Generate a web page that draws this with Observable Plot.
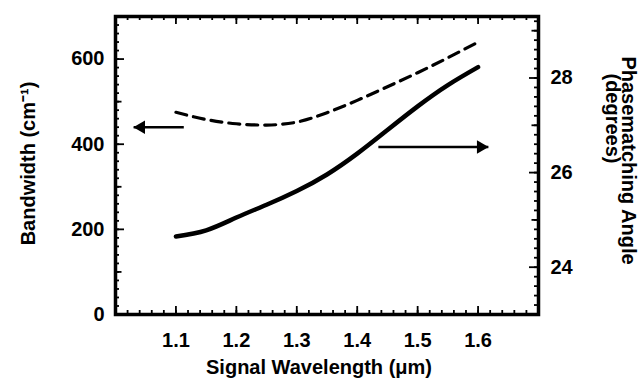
<!DOCTYPE html>
<html><head><meta charset="utf-8">
<script src="https://cdn.jsdelivr.net/npm/d3@7"></script>
<script src="https://cdn.jsdelivr.net/npm/@observablehq/plot@0.6"></script>
<style>
body{margin:0;background:#fff;}
#chart svg{display:block;font-family:"Liberation Sans",Arial,Helvetica,sans-serif;}
</style>
</head><body><div id="chart"></div>
<script>
// Data
const wavelength = [1.10, 1.15, 1.20, 1.25, 1.30, 1.35, 1.40, 1.45, 1.50, 1.55, 1.60];
const bandwidth  = [475, 458, 448, 445, 452, 474, 503, 535, 568, 603, 640];   // cm^-1 (dashed, left axis)
const angle      = [24.65, 24.78, 25.05, 25.32, 25.61, 25.96, 26.40, 26.90, 27.40, 27.85, 28.23]; // degrees (solid, right axis)

// Tick labels
const xTickLabels = [1.1, 1.2, 1.3, 1.4, 1.5, 1.6];
const bwTickLabels = [0, 200, 400, 600];
const angleTickLabels = [24, 26, 28];
const bwMidTicks = [100, 300, 500, 700];
const angleMidTicks = [23, 25, 27, 29];

// Annotation arrows: [bandwidth arrow -> left, angle arrow -> right]
const arrowFromX = [1.113, 1.435];
const arrowToX = [1.03, 1.617];
const arrowBandwidth = [440];
const arrowAngle = [26.54];

const xDomain = [1.0, 1.7];
const bwDomain = [0, 700];
const angleDomain = [23, 29.3];
const angleToBw = d3.scaleLinear(angleDomain, bwDomain);

const bwRows = wavelength.map((w, i) => ({w, v: bandwidth[i]}));
const angleRows = wavelength.map((w, i) => ({w, v: angleToBw(angle[i])}));
const arrows = [
  {x1: arrowFromX[0], x2: arrowToX[0], y: arrowBandwidth[0], dir: -1},
  {x1: arrowFromX[1], x2: arrowToX[1], y: angleToBw(arrowAngle[0]), dir: 1}
];

const W = 641, H = 379, mL = 115, mR = 103, mT = 16, mB = 65;
const FW = W - mL - mR, FH = H - mT - mB;

const font = {fontSize: 20, fontWeight: "bold", fill: "black"};
const tk = {stroke: "black", strokeWidth: 1.8};

const steps = (a, b, s) => d3.range(Math.round(a / s), Math.round(b / s) + 1).map(k => +(k * s).toFixed(6));

// inward ticks drawn from each frame edge into the plot
const leftTicks = (vals, L) => Plot.tickY(vals, {y: d => d, insetRight: FW - L, ...tk});
const rightTicks = (vals, L) => Plot.tickY(vals, {y: d => d, insetLeft: FW - L, ...tk});
const bottomTicks = (vals, L) => Plot.tickX(vals, {x: d => d, insetTop: FH - L, ...tk});
const topTicks = (vals, L) => Plot.tickX(vals, {x: d => d, insetBottom: FH - L, ...tk});

const chart = Plot.plot({
  width: W,
  height: H,
  marginLeft: mL,
  marginRight: mR,
  marginTop: mT,
  marginBottom: mB,
  style: {background: "#fff"},
  x: {domain: xDomain},
  y: {domain: bwDomain},
  marks: [
    // inward ticks
    leftTicks(steps(0, 700, 20), 4),
    leftTicks(bwMidTicks, 6.5),
    leftTicks(bwTickLabels, 9),
    rightTicks(steps(23, 29.2, 0.2).map(angleToBw), 4),
    rightTicks(angleMidTicks.map(angleToBw), 6.5),
    rightTicks(angleTickLabels.map(angleToBw), 9),
    bottomTicks(steps(1.0, 1.7, 0.02), 4),
    bottomTicks(xTickLabels, 8),
    topTicks(steps(1.0, 1.7, 0.02), 4),
    topTicks(xTickLabels, 8),
    // tick labels
    Plot.axisY(bwTickLabels, {anchor: "left", tickSize: 0, tickPadding: 11, label: null, ...font}),
    Plot.axisY(angleTickLabels.map(angleToBw), {anchor: "right", tickSize: 0, tickPadding: 12, tickFormat: d => d3.format("d")(angleToBw.invert(d)), label: null, ...font}),
    Plot.axisX(xTickLabels, {anchor: "bottom", tickSize: 0, tickPadding: 18, tickFormat: d3.format(".1f"), label: null, ...font}),
    // axis titles
    Plot.text(["Signal Wavelength (μm)"], {frameAnchor: "bottom", textAnchor: "middle", lineAnchor: "middle", dx: -8, dy: 53, ...font}),
    Plot.text(["Bandwidth (cm⁻¹)"], {frameAnchor: "left", textAnchor: "middle", lineAnchor: "middle", rotate: -90, dx: -87, dy: -2, ...font}),
    Plot.text(["Phasematching Angle"], {frameAnchor: "right", textAnchor: "middle", lineAnchor: "middle", rotate: 90, dx: 90, dy: -5, ...font}),
    Plot.text(["(degrees)"], {frameAnchor: "right", textAnchor: "middle", lineAnchor: "middle", rotate: 90, dx: 74, dy: -47, ...font}),
    // data
    Plot.line(bwRows, {x: "w", y: "v", curve: "natural", stroke: "black", strokeWidth: 3.2, strokeDasharray: "11,7"}),
    Plot.line(angleRows, {x: "w", y: "v", curve: "natural", stroke: "black", strokeWidth: 4.5}),
    // arrows
    Plot.link(arrows, {x1: "x1", x2: "x2", y1: "y", y2: "y", stroke: "black", strokeWidth: 2.5}),
    Plot.dot(arrows.filter(d => d.dir < 0), {x: "x2", y: "y", symbol: "triangle", r: 5, fill: "black", stroke: "none", rotate: -90, dx: 7.5}),
    Plot.dot(arrows.filter(d => d.dir > 0), {x: "x2", y: "y", symbol: "triangle", r: 5, fill: "black", stroke: "none", rotate: 90, dx: -7.5}),
    Plot.frame({stroke: "black", strokeWidth: 3.5})
  ]
});
document.getElementById("chart").appendChild(chart);
</script>
</body></html>
